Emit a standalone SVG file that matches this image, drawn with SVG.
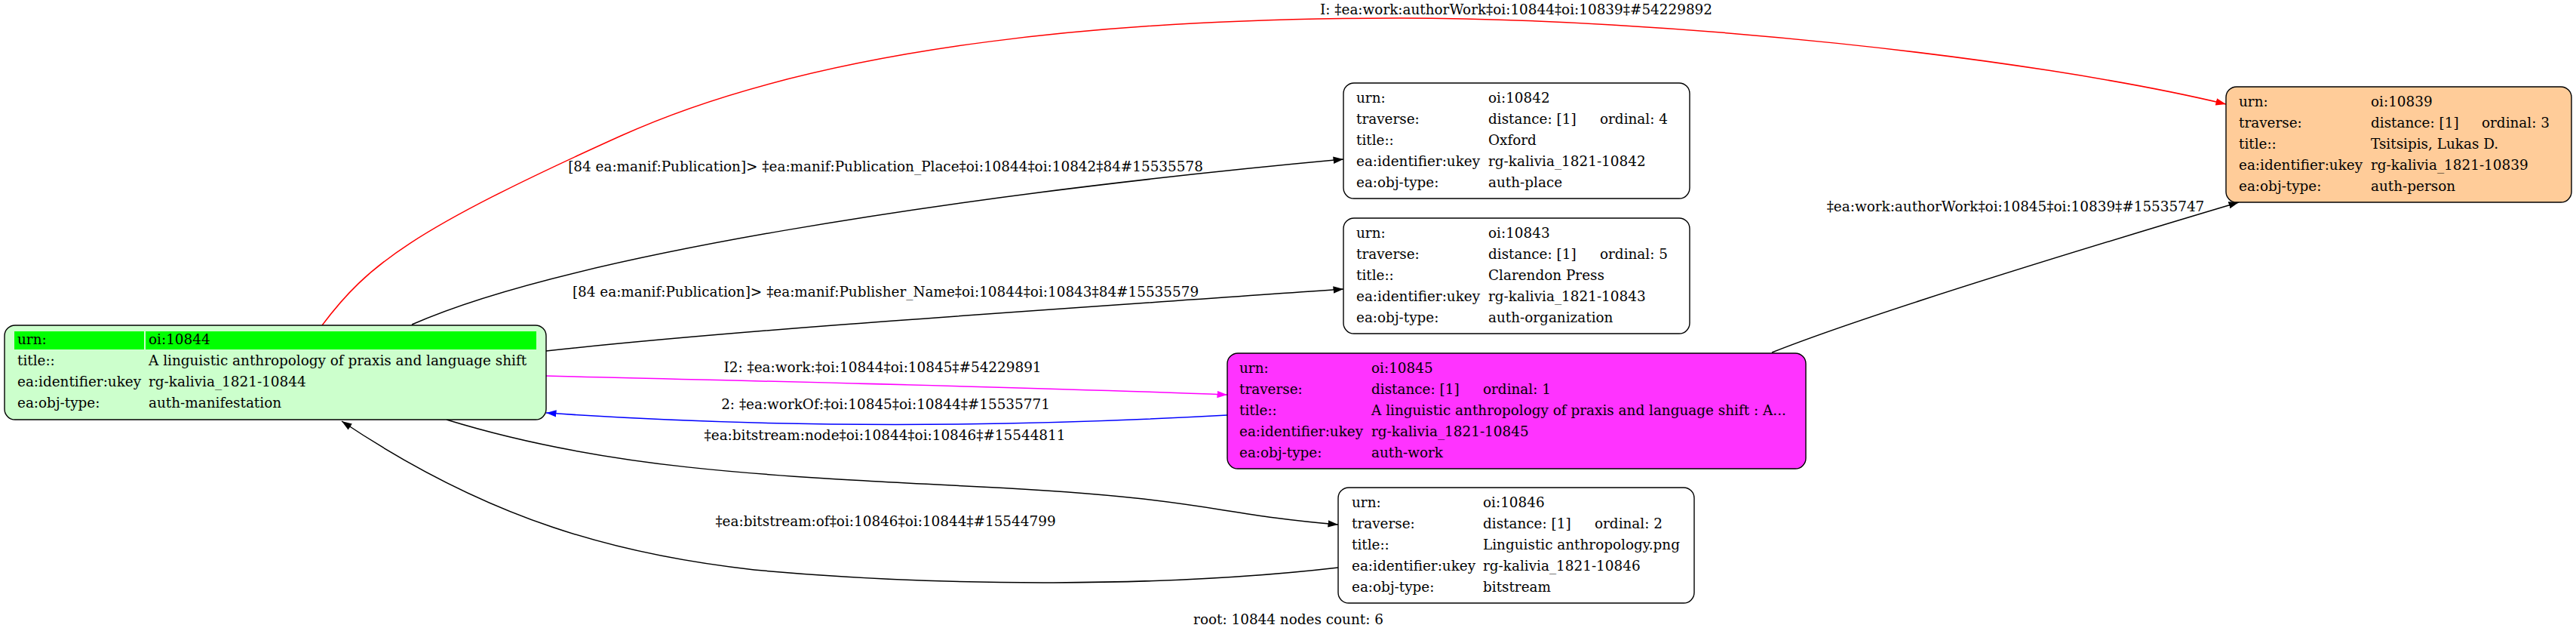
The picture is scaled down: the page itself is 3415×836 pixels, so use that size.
<svg xmlns="http://www.w3.org/2000/svg" width="3415" height="836" viewBox="0 0 3415 836">
<style>
text{font-family:"DejaVu Serif","Liberation Serif",serif;font-size:18.4px;fill:#000}
.lbl{text-anchor:middle}
.box{stroke:#000;stroke-width:1.4}
.e{fill:none;stroke-width:1.5}
</style>
<defs>
<marker id="ak" markerUnits="userSpaceOnUse" markerWidth="15" markerHeight="11" refX="13.5" refY="5" orient="auto"><path d="M0,0.3 L13.5,5 L0,9.7 z" fill="#000"/></marker>
<marker id="ar" markerUnits="userSpaceOnUse" markerWidth="15" markerHeight="11" refX="13.5" refY="5" orient="auto"><path d="M0,0.3 L13.5,5 L0,9.7 z" fill="#f00"/></marker>
<marker id="am" markerUnits="userSpaceOnUse" markerWidth="15" markerHeight="11" refX="13.5" refY="5" orient="auto"><path d="M0,0.3 L13.5,5 L0,9.7 z" fill="#f0f"/></marker>
<marker id="ab" markerUnits="userSpaceOnUse" markerWidth="15" markerHeight="11" refX="13.5" refY="5" orient="auto"><path d="M0,0.3 L13.5,5 L0,9.7 z" fill="#00f"/></marker>
</defs>
<rect width="3415" height="836" fill="#fff"/>
<g id="connectors">
<path class="e" stroke="#f00" marker-end="url(#ar)" d="M427,431 C487,351 546,305 823,180 C1100,55 1505,24 1855,24 C2205,24 2688,75 2951,138"/>
<text class="lbl" x="2010" y="19">I: ‡ea:work:authorWork‡oi:10844‡oi:10839‡#54229892</text>
<path class="e" stroke="#000" marker-end="url(#ak)" d="M546,430 C750,340 1250,260 1781,211"/>
<text class="lbl" x="1174" y="227">[84 ea:manif:Publication]&gt; ‡ea:manif:Publication_Place‡oi:10844‡oi:10842‡84#15535578</text>
<path class="e" stroke="#000" marker-end="url(#ak)" d="M724,465 C1000,435 1400,410 1781,383"/>
<text class="lbl" x="1174" y="393">[84 ea:manif:Publication]&gt; ‡ea:manif:Publisher_Name‡oi:10844‡oi:10843‡84#15535579</text>
<path class="e" stroke="#f0f" marker-end="url(#am)" d="M724,498 C1000,505 1350,512 1627,523"/>
<text class="lbl" x="1170" y="493">I2: ‡ea:work:‡oi:10844‡oi:10845‡#54229891</text>
<path class="e" stroke="#00f" marker-end="url(#ab)" d="M1627,550 C1300,568 1000,566 724,547"/>
<text class="lbl" x="1174" y="542">2: ‡ea:workOf:‡oi:10845‡oi:10844‡#15535771</text>
<path class="e" stroke="#000" marker-end="url(#ak)" d="M592,556 C800,620 1000,630 1300,645 C1600,660 1600,680 1774,695"/>
<text class="lbl" x="1173" y="583">‡ea:bitstream:node‡oi:10844‡oi:10846‡#15544811</text>
<path class="e" stroke="#000" marker-end="url(#ak)" d="M1774,752 C1550,778 1250,778 1000,755 C820,735 650,690 453,558"/>
<text class="lbl" x="1174" y="697">‡ea:bitstream:of‡oi:10846‡oi:10844‡#15544799</text>
<path class="e" stroke="#000" marker-end="url(#ak)" d="M2349,467 C2480,415 2760,330 2968,268"/>
<text class="lbl" x="2672" y="280">‡ea:work:authorWork‡oi:10845‡oi:10839‡#15535747</text>
</g>
<g id="n10844">
<rect class="box" x="6" y="431" width="718" height="125" rx="14" fill="#ccffcc"/>
<rect x="19" y="439" width="172" height="24" fill="#00ff00"/>
<rect x="193" y="439" width="518" height="24" fill="#00ff00"/>
<text x="23" y="456">urn:</text><text x="197" y="456">oi:10844</text>
<text x="23" y="484">title::</text><text x="197" y="484">A linguistic anthropology of praxis and language shift</text>
<text x="23" y="512">ea:identifier:ukey</text><text x="197" y="512">rg-kalivia_1821-10844</text>
<text x="23" y="540">ea:obj-type:</text><text x="197" y="540">auth-manifestation</text>
</g>
<g id="n10842">
<rect class="box" x="1781" y="110" width="459" height="153" rx="14" fill="#fff"/>
<text x="1798" y="135.5">urn:</text><text x="1973" y="135.5">oi:10842</text>
<text x="1798" y="163.5">traverse:</text><text x="1973" y="163.5">distance: [1]</text><text x="2121" y="163.5">ordinal: 4</text>
<text x="1798" y="191.5">title::</text><text x="1973" y="191.5">Oxford</text>
<text x="1798" y="219.5">ea:identifier:ukey</text><text x="1973" y="219.5">rg-kalivia_1821-10842</text>
<text x="1798" y="247.5">ea:obj-type:</text><text x="1973" y="247.5">auth-place</text>
</g>
<g id="n10843">
<rect class="box" x="1781" y="289" width="459" height="153" rx="14" fill="#fff"/>
<text x="1798" y="314.5">urn:</text><text x="1973" y="314.5">oi:10843</text>
<text x="1798" y="342.5">traverse:</text><text x="1973" y="342.5">distance: [1]</text><text x="2121" y="342.5">ordinal: 5</text>
<text x="1798" y="370.5">title::</text><text x="1973" y="370.5">Clarendon Press</text>
<text x="1798" y="398.5">ea:identifier:ukey</text><text x="1973" y="398.5">rg-kalivia_1821-10843</text>
<text x="1798" y="426.5">ea:obj-type:</text><text x="1973" y="426.5">auth-organization</text>
</g>
<g id="n10845">
<rect class="box" x="1627" y="468" width="767" height="153" rx="14" fill="#ff33ff"/>
<text x="1643" y="493.5">urn:</text><text x="1818" y="493.5">oi:10845</text>
<text x="1643" y="521.5">traverse:</text><text x="1818" y="521.5">distance: [1]</text><text x="1966" y="521.5">ordinal: 1</text>
<text x="1643" y="549.5">title::</text><text x="1818" y="549.5">A linguistic anthropology of praxis and language shift : A...</text>
<text x="1643" y="577.5">ea:identifier:ukey</text><text x="1818" y="577.5">rg-kalivia_1821-10845</text>
<text x="1643" y="605.5">ea:obj-type:</text><text x="1818" y="605.5">auth-work</text>
</g>
<g id="n10846">
<rect class="box" x="1774" y="646" width="472" height="153" rx="14" fill="#fff"/>
<text x="1792" y="671.5">urn:</text><text x="1966" y="671.5">oi:10846</text>
<text x="1792" y="699.5">traverse:</text><text x="1966" y="699.5">distance: [1]</text><text x="2114" y="699.5">ordinal: 2</text>
<text x="1792" y="727.5">title::</text><text x="1966" y="727.5">Linguistic anthropology.png</text>
<text x="1792" y="755.5">ea:identifier:ukey</text><text x="1966" y="755.5">rg-kalivia_1821-10846</text>
<text x="1792" y="783.5">ea:obj-type:</text><text x="1966" y="783.5">bitstream</text>
</g>
<g id="n10839">
<rect class="box" x="2951" y="115" width="458" height="153" rx="14" fill="#ffcc99"/>
<text x="2968" y="140.5">urn:</text><text x="3143" y="140.5">oi:10839</text>
<text x="2968" y="168.5">traverse:</text><text x="3143" y="168.5">distance: [1]</text><text x="3290" y="168.5">ordinal: 3</text>
<text x="2968" y="196.5">title::</text><text x="3143" y="196.5">Tsitsipis, Lukas D.</text>
<text x="2968" y="224.5">ea:identifier:ukey</text><text x="3143" y="224.5">rg-kalivia_1821-10839</text>
<text x="2968" y="252.5">ea:obj-type:</text><text x="3143" y="252.5">auth-person</text>
</g>
<text class="lbl" x="1708" y="827">root: 10844 nodes count: 6</text>
</svg>
